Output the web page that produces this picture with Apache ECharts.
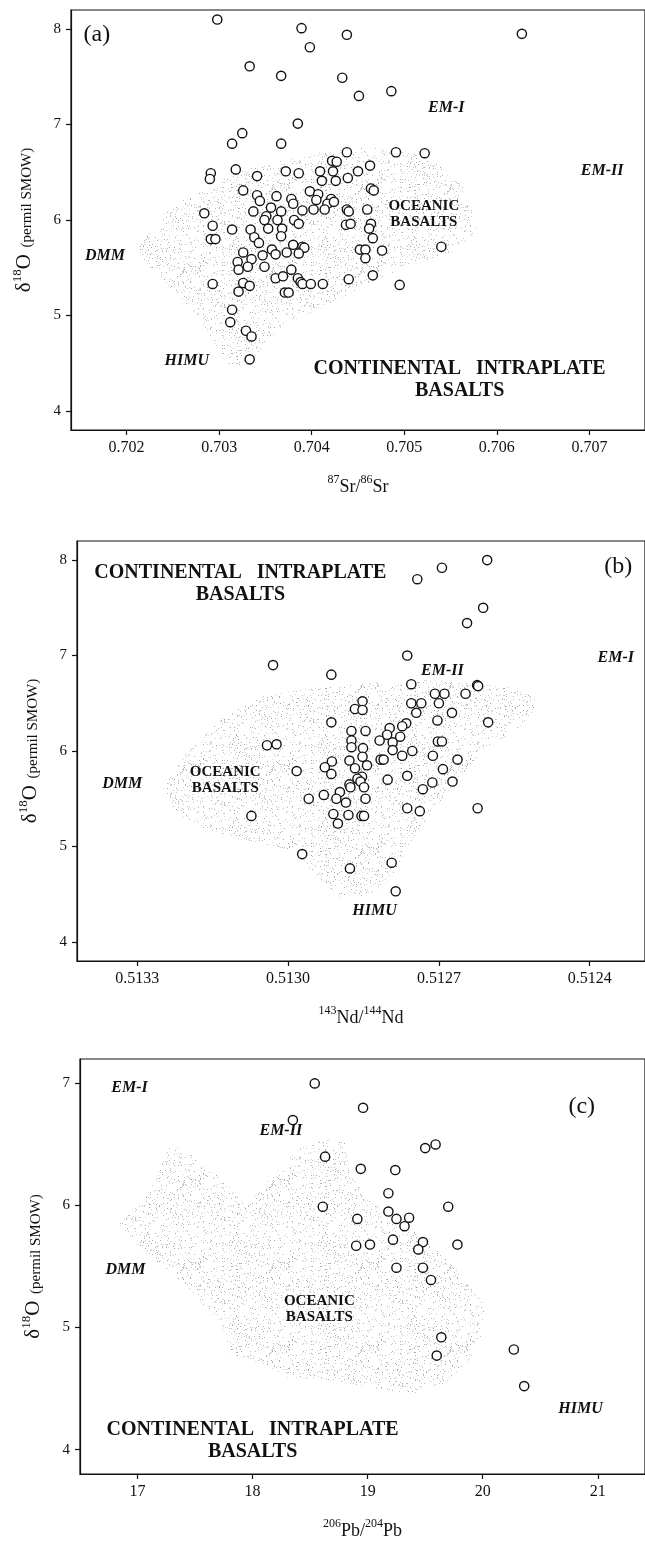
<!DOCTYPE html>
<html>
<head>
<meta charset="utf-8">
<script src="https://cdn.jsdelivr.net/npm/echarts@6/dist/echarts.min.js"></script>
<style>
  html, body { margin: 0; padding: 0; background: #fff; }
  #chart { width: 645px; height: 1541px; }
</style>
</head>
<body>
<div id="chart"></div>
<script>
// ---------- Panel (a): δ18O vs 87Sr/86Sr ----------
const srTicks = [0.702, 0.703, 0.704, 0.705, 0.706, 0.707];
const srSamples = [
  [0.70298,8.10],[0.70389,8.01],[0.70438,7.94],[0.70627,7.95],[0.70398,7.81],[0.70333,7.61],
  [0.70367,7.51],[0.70433,7.49],[0.70486,7.35],[0.70451,7.30],[0.70385,7.01],[0.70325,6.91],
  [0.70314,6.80],[0.70367,6.80],[0.70438,6.71],[0.70491,6.71],[0.70522,6.70],[0.70422,6.62],
  [0.70427,6.61],[0.70463,6.57],[0.70291,6.49],[0.70290,6.43],[0.70318,6.53],[0.70372,6.51],
  [0.70386,6.49],[0.70409,6.51],[0.70423,6.51],[0.70450,6.51],[0.70341,6.46],[0.70411,6.41],
  [0.70426,6.41],[0.70439,6.44],[0.70464,6.33],[0.70467,6.31],[0.70326,6.31],[0.70398,6.30],
  [0.70407,6.27],[0.70341,6.26],[0.70362,6.25],[0.70344,6.20],[0.70378,6.22],[0.70421,6.22],
  [0.70405,6.21],[0.70380,6.17],[0.70417,6.17],[0.70424,6.19],[0.70284,6.07],[0.70337,6.09],
  [0.70356,6.13],[0.70367,6.09],[0.70390,6.10],[0.70402,6.11],[0.70414,6.11],[0.70438,6.11],
  [0.70440,6.09],[0.70460,6.11],[0.70351,6.04],[0.70349,6.00],[0.70363,6.00],[0.70381,6.00],
  [0.70293,5.94],[0.70314,5.90],[0.70334,5.90],[0.70353,5.91],[0.70368,5.91],[0.70386,5.96],
  [0.70437,5.95],[0.70442,5.96],[0.70464,5.96],[0.70462,5.91],[0.70338,5.82],[0.70367,5.83],
  [0.70291,5.80],[0.70296,5.80],[0.70343,5.76],[0.70466,5.81],[0.70380,5.74],[0.70390,5.72],
  [0.70392,5.71],[0.70357,5.69],[0.70452,5.69],[0.70458,5.69],[0.70476,5.68],[0.70540,5.72],
  [0.70326,5.66],[0.70373,5.66],[0.70386,5.65],[0.70347,5.63],[0.70361,5.64],[0.70458,5.60],
  [0.70320,5.56],[0.70335,5.59],[0.70321,5.48],[0.70331,5.51],[0.70349,5.51],[0.70378,5.48],
  [0.70361,5.39],[0.70369,5.41],[0.70385,5.39],[0.70440,5.38],[0.70466,5.42],[0.70293,5.33],
  [0.70326,5.34],[0.70333,5.31],[0.70388,5.35],[0.70390,5.33],[0.70399,5.33],[0.70412,5.33],
  [0.70495,5.32],[0.70321,5.25],[0.70371,5.24],[0.70375,5.24],[0.70314,5.06],[0.70312,4.93],
  [0.70329,4.84],[0.70335,4.78],[0.70333,4.54]
];
const srOceanicField = [
  [0.70213,5.73],[0.70248,6.14],[0.70293,6.37],[0.70328,6.53],[0.70372,6.63],[0.70417,6.72],
  [0.70461,6.76],[0.70505,6.72],[0.70541,6.56],[0.70563,6.35],[0.70579,5.94],[0.70572,5.80],
  [0.70550,5.66],[0.70505,5.52],[0.70461,5.34],[0.70417,5.10],[0.70372,4.92],[0.70346,4.65],
  [0.70328,4.47],[0.70310,4.47],[0.70293,4.75],[0.70275,4.99],[0.70253,5.24],[0.70231,5.45],
  [0.70215,5.62]
];
const srNotes = [
  ['(a)', 0.70168, 7.94, 'panel'],
  ['EM-I', 0.705454, 7.18, 'member'],
  ['EM-II', 0.707137, 6.51, 'member'],
  ['DMM', 0.701766, 5.62, 'member'],
  ['HIMU', 0.702651, 4.52, 'member'],
  ['OCEANIC\nBASALTS', 0.705211, 6.06, 'ocean'],
  ['CONTINENTAL   INTRAPLATE\nBASALTS', 0.705598, 4.33, 'continent']
];

// ---------- Panel (b): δ18O vs 143Nd/144Nd ----------
const ndTicks = [0.5133, 0.5130, 0.5127, 0.5124];
const ndSamples = [
  [0.512604,8.00],[0.512694,7.92],[0.512743,7.80],[0.512612,7.50],[0.512644,7.34],[0.512763,7.00],
  [0.513030,6.90],[0.512914,6.80],[0.512755,6.70],[0.512624,6.69],[0.512622,6.68],[0.512708,6.60],
  [0.512689,6.60],[0.512647,6.60],[0.512852,6.52],[0.512755,6.50],[0.512735,6.50],[0.512700,6.50],
  [0.512867,6.44],[0.512852,6.43],[0.512745,6.40],[0.512674,6.40],[0.512914,6.30],[0.512703,6.32],
  [0.512602,6.30],[0.512765,6.29],[0.512773,6.26],[0.512798,6.24],[0.512874,6.21],[0.512846,6.21],
  [0.512803,6.17],[0.512777,6.15],[0.512818,6.11],[0.512792,6.09],[0.512874,6.11],[0.512702,6.10],
  [0.512694,6.10],[0.513042,6.06],[0.513023,6.07],[0.512874,6.04],[0.512851,6.03],[0.512792,6.01],
  [0.512753,6.00],[0.512712,5.95],[0.512773,5.95],[0.512852,5.94],[0.512816,5.91],[0.512810,5.91],
  [0.512878,5.90],[0.512913,5.89],[0.512663,5.91],[0.512843,5.85],[0.512927,5.83],[0.512983,5.79],
  [0.512867,5.82],[0.512692,5.81],[0.512914,5.76],[0.512853,5.73],[0.512763,5.74],[0.512862,5.71],
  [0.512802,5.70],[0.512856,5.68],[0.512673,5.68],[0.512713,5.67],[0.512878,5.65],[0.512876,5.62],
  [0.512849,5.62],[0.512732,5.60],[0.512897,5.57],[0.512929,5.54],[0.512959,5.50],[0.512904,5.50],
  [0.512846,5.50],[0.512885,5.46],[0.512763,5.40],[0.512623,5.40],[0.512738,5.37],[0.513073,5.32],
  [0.512910,5.34],[0.512880,5.33],[0.512854,5.32],[0.512849,5.32],[0.512901,5.24],[0.512972,4.92],
  [0.512794,4.83],[0.512877,4.77],[0.512786,4.53]
];
const ndOceanicField = [
  [0.51325,5.59],[0.51321,5.94],[0.51313,6.36],[0.51305,6.57],[0.51296,6.66],[0.51288,6.69],
  [0.51280,6.73],[0.51272,6.74],[0.51264,6.71],[0.51255,6.66],[0.51251,6.57],[0.51251,6.43],
  [0.51254,6.25],[0.51260,6.05],[0.51264,5.84],[0.51268,5.59],[0.51272,5.31],[0.51276,5.00],
  [0.51279,4.72],[0.51284,4.47],[0.51290,4.46],[0.51294,4.68],[0.51299,4.96],[0.51309,5.07],
  [0.51317,5.17],[0.51322,5.35]
];
const ndNotes = [
  ['(b)', 0.512343, 7.93, 'panel'],
  ['CONTINENTAL   INTRAPLATE\nBASALTS', 0.513095, 7.75, 'continent'],
  ['EM-I', 0.512348, 6.98, 'member'],
  ['EM-II', 0.512693, 6.84, 'member'],
  ['DMM', 0.51333, 5.66, 'member'],
  ['OCEANIC\nBASALTS', 0.513125, 5.70, 'ocean'],
  ['HIMU', 0.512828, 4.33, 'member']
];

// ---------- Panel (c): δ18O vs 206Pb/204Pb ----------
const pbTicks = [17, 18, 19, 20, 21];
const pbSamples = [
  [18.54,7.00],[18.96,6.80],[18.35,6.70],[19.50,6.47],[19.59,6.50],[18.63,6.40],[18.94,6.30],
  [19.24,6.29],[19.18,6.10],[18.61,5.99],[19.70,5.99],[19.18,5.95],[18.91,5.89],[19.25,5.89],
  [19.36,5.90],[19.32,5.83],[19.22,5.72],[18.90,5.67],[19.02,5.68],[19.48,5.70],[19.44,5.64],
  [19.78,5.68],[19.25,5.49],[19.48,5.49],[19.55,5.39],[19.64,4.92],[19.60,4.77],[20.27,4.82],
  [20.36,4.52]
];
const pbOceanicField = [
  [16.83,5.85],[17.10,6.10],[17.28,6.50],[17.44,6.44],[17.73,6.22],[17.94,6.00],[18.16,6.22],
  [18.37,6.44],[18.55,6.54],[18.80,6.53],[18.84,6.27],[19.00,6.05],[19.40,5.80],[19.73,5.52],
  [20.02,5.18],[19.99,4.93],[19.88,4.71],[19.66,4.54],[19.37,4.45],[19.01,4.51],[18.66,4.57],
  [18.30,4.59],[18.08,4.71],[17.83,4.76],[17.73,5.01],[17.48,5.29],[17.23,5.49],[17.01,5.66],
  [16.87,5.80]
];
const pbNotes = [
  ['(c)', 20.86, 6.81, 'panel'],
  ['EM-I', 16.93, 6.96, 'member'],
  ['EM-II', 18.245, 6.61, 'member'],
  ['DMM', 16.895, 5.47, 'member'],
  ['OCEANIC\nBASALTS', 18.58, 5.15, 'ocean'],
  ['HIMU', 20.85, 4.33, 'member'],
  ['CONTINENTAL   INTRAPLATE\nBASALTS', 18.0, 4.07, 'continent']
];

const o18Ticks = [4, 5, 6, 7, 8];
const o18TicksPb = [4, 5, 6, 7];

// ---------- styling ----------
const SERIF = "'Liberation Serif', 'Times New Roman', 'DejaVu Serif', serif";
const INK = '#111111';

const noteStyles = {
  panel:     { fontSize: 24, fontWeight: 'normal', fontStyle: 'normal' },
  member:    { fontSize: 16, fontWeight: 'bold', fontStyle: 'italic' },
  ocean:     { fontSize: 15, fontWeight: 'bold', fontStyle: 'normal', lineHeight: 16 },
  continent: { fontSize: 20, fontWeight: 'bold', fontStyle: 'normal', lineHeight: 22 }
};

// light grey stipple texture used for the oceanic-basalt fields
function makeStipple() {
  const w = 89, h = 83;
  const c = document.createElement('canvas');
  c.width = w; c.height = h;
  const g = c.getContext('2d');
  let s = 20240601;
  const next = () => { s = (Math.imul(s, 1664525) + 1013904223) >>> 0; return s / 4294967296; };
  for (let i = 0; i < 620; i++) {
    const x = Math.floor(next() * w), y = Math.floor(next() * h);
    const v = 165 + Math.floor(next() * 60);
    g.fillStyle = 'rgb(' + v + ',' + v + ',' + v + ')';
    g.fillRect(x, y, 1, 1);
  }
  return c;
}
const stipple = makeStipple();

const yName = '{d|δ}{s|18}{d|O}  {p|(permil SMOW)}';
const yNameRich = {
  d: { fontFamily: SERIF, fontSize: 21, color: INK, lineHeight: 24, verticalAlign: 'bottom' },
  s: { fontFamily: SERIF, fontSize: 13, color: INK, lineHeight: 24, verticalAlign: 'top', padding: [0, 0, 8, 0] },
  p: { fontFamily: SERIF, fontSize: 15, color: INK, lineHeight: 24, verticalAlign: 'bottom' }
};
const xNameRich = {
  n: { fontFamily: SERIF, fontSize: 18, color: INK, lineHeight: 22, verticalAlign: 'bottom' },
  s: { fontFamily: SERIF, fontSize: 12, color: INK, lineHeight: 22, verticalAlign: 'top', padding: [0, 0, 6, 0] }
};

function xAxis(gi, min, max, ticks, digits, name, inverse) {
  return {
    type: 'value', gridIndex: gi, min: min, max: max, inverse: !!inverse,
    axisLine: { show: true, onZero: false, lineStyle: { color: INK, width: 1.2 } },
    axisTick: { show: true, inside: false, length: 5, customValues: ticks, lineStyle: { color: INK, width: 1.2 } },
    axisLabel: { customValues: ticks, formatter: v => v.toFixed(digits), margin: 10,
                 color: INK, fontFamily: SERIF, fontSize: 16 },
    splitLine: { show: false },
    name: name, nameLocation: 'middle', nameGap: 44,
    nameTextStyle: { rich: xNameRich }
  };
}
function yAxis(gi, min, max, ticks) {
  return {
    type: 'value', gridIndex: gi, min: min, max: max,
    axisLine: { show: true, onZero: false, lineStyle: { color: INK, width: 1.2 } },
    axisTick: { show: true, inside: false, length: 5, customValues: ticks, lineStyle: { color: INK, width: 1.2 } },
    axisLabel: { customValues: ticks, formatter: v => String(Math.round(v)), margin: 10,
                 color: INK, fontFamily: SERIF, fontSize: 15 },
    splitLine: { show: false },
    name: yName, nameLocation: 'middle', nameRotate: 90, nameGap: 36,
    nameTextStyle: { rich: yNameRich }
  };
}

function fieldSeries(gi, pts) {
  return {
    type: 'custom', xAxisIndex: gi, yAxisIndex: gi, silent: true, z: 1,
    data: [pts[0]],
    renderItem: (params, api) => ({
      type: 'polygon',
      shape: { points: pts.map(p => api.coord(p)) },
      style: { fill: { image: stipple, repeat: 'repeat' }, stroke: null }
    })
  };
}
function sampleSeries(gi, pts) {
  return {
    type: 'scatter', xAxisIndex: gi, yAxisIndex: gi, z: 3,
    symbol: 'circle', symbolSize: 9.2,
    itemStyle: { color: '#ffffff', borderColor: INK, borderWidth: 1.4, opacity: 1 },
    data: pts
  };
}
function noteSeries(gi, notes) {
  return {
    type: 'scatter', xAxisIndex: gi, yAxisIndex: gi, z: 5, silent: true,
    symbolSize: 0,
    itemStyle: { opacity: 1 },
    data: notes.map(n => ({
      name: n[0], value: [n[1], n[2]],
      label: Object.assign({
        show: true, position: 'inside', formatter: '{b}', color: INK, opacity: 1,
        fontFamily: SERIF, align: 'center', verticalAlign: 'middle'
      }, noteStyles[n[3]])
    }))
  };
}

const gridStyle = { show: true, borderColor: INK, borderWidth: 1.2, backgroundColor: 'transparent' };

const chart = echarts.init(document.getElementById('chart'), null, { renderer: 'canvas' });
chart.setOption({
  animation: false,
  backgroundColor: '#ffffff',
  grid: [
    Object.assign({ left: 71, top: 10, width: 576, height: 420 }, gridStyle),
    Object.assign({ left: 77, top: 541, width: 569, height: 420 }, gridStyle),
    Object.assign({ left: 80, top: 1059, width: 566, height: 418 }, gridStyle)
  ],
  xAxis: [
    xAxis(0, 0.7014, 0.7076, srTicks, 3, '{s|87}{n|Sr/}{s|86}{n|Sr}', false),
    xAxis(1, 0.51229, 0.51342, ndTicks, 4, '{s|143}{n|Nd/}{s|144}{n|Nd}', true),
    xAxis(2, 16.5, 21.41, pbTicks, 0, '{s|206}{n|Pb/}{s|204}{n|Pb}', false)
  ],
  yAxis: [
    yAxis(0, 3.8, 8.2, o18Ticks),
    yAxis(1, 3.8, 8.2, o18Ticks),
    yAxis(2, 3.8, 7.2, o18TicksPb)
  ],
  series: [
    fieldSeries(0, srOceanicField), sampleSeries(0, srSamples), noteSeries(0, srNotes),
    fieldSeries(1, ndOceanicField), sampleSeries(1, ndSamples), noteSeries(1, ndNotes),
    fieldSeries(2, pbOceanicField), sampleSeries(2, pbSamples), noteSeries(2, pbNotes)
  ]
});
</script>
</body>
</html>
